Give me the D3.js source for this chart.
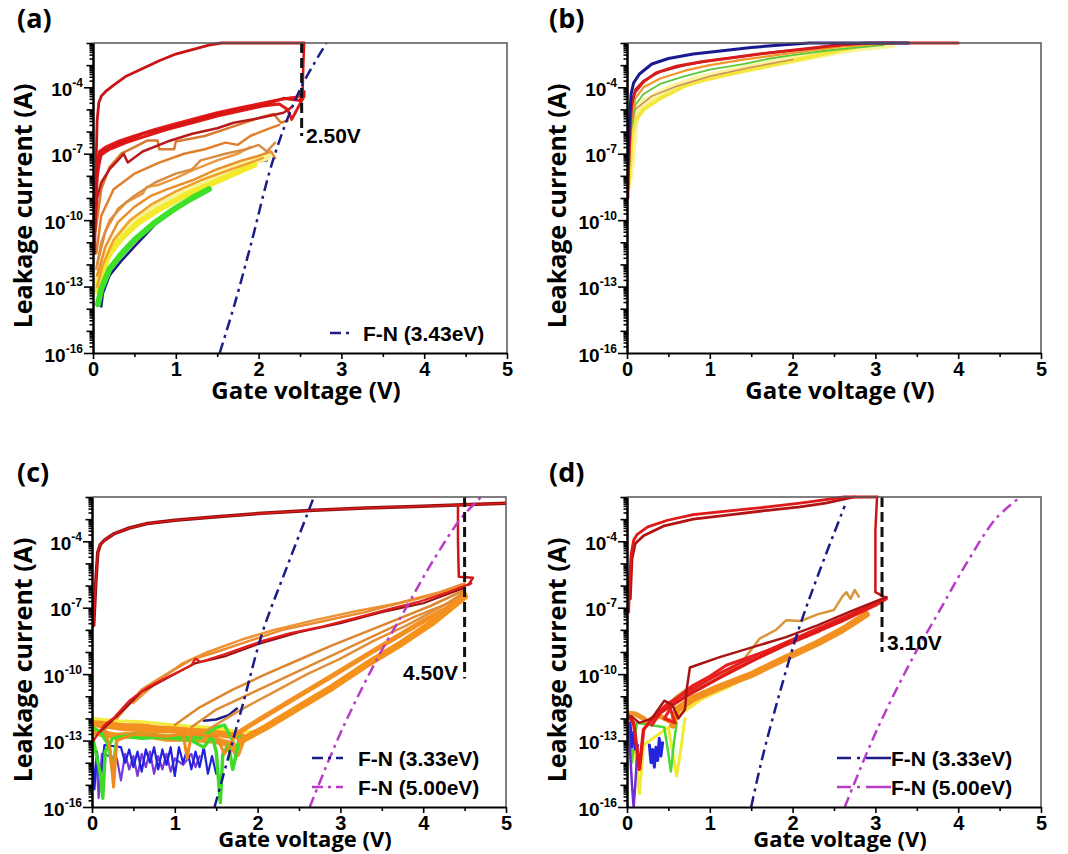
<!DOCTYPE html>
<html>
<head>
<meta charset="utf-8">
<script src="https://cdn.jsdelivr.net/npm/d3@7"></script>
<style>
  body { margin: 0; background: #fff; }
  svg { display: block; }
</style>
</head>
<body>
<svg width="1068" height="854"></svg>
<script>
// every point is [gate voltage (V), log10 of leakage current (A)]
const X_TICKS = [0, 0.5, 1, 1.5, 2, 2.5, 3, 3.5, 4, 4.5, 5]
const Y_LABELS = [-16, -13, -10, -7, -4]

// ---- (a)
const aTop = [[0.02,-11.5],[0.03,-9],[0.04,-7],[0.05,-5.5],[0.07,-4.7],[0.1,-4.4],[0.15,-4.2],[0.25,-3.9],[0.4,-3.5],[0.6,-3.15],[0.8,-2.8],[1.0,-2.5],[1.2,-2.3],[1.4,-2.1],[1.55,-2.0],[2.55,-2.0]]
const aJump = [[2.5,-4.3],[2.53,-4.4],[2.54,-3.0],[2.55,-2.0]]
const aBand1 = [[0.02,-10],[0.03,-8.5],[0.05,-7.3],[0.08,-6.9],[0.15,-6.7],[0.3,-6.45],[0.5,-6.2],[0.75,-5.9],[1.0,-5.65],[1.25,-5.4],[1.5,-5.15],[1.75,-4.95],[2.0,-4.75],[2.2,-4.6],[2.35,-4.5],[2.45,-4.45],[2.55,-4.3]]
const aBand2 = [[0.03,-9.5],[0.06,-7.5],[0.1,-7.05],[0.2,-6.8],[0.4,-6.5],[0.6,-6.25],[0.9,-5.9],[1.2,-5.6],[1.5,-5.3],[1.8,-5.05],[2.05,-4.85],[2.25,-4.75],[2.35,-5.0],[2.4,-5.45],[2.45,-5.1],[2.55,-4.4]]
const aBand3 = [[0.05,-8],[0.1,-6.9],[0.3,-6.55],[0.6,-6.1],[1.0,-5.75],[1.4,-5.3],[1.8,-4.95],[2.1,-4.75],[2.3,-4.5],[2.5,-4.6],[2.55,-4.2]]
const aDarkRed = [[0.02,-10.5],[0.05,-9],[0.1,-8.3],[0.2,-7.7],[0.3,-7.3],[0.37,-7.0],[0.42,-7.4],[0.6,-6.9],[0.9,-6.45],[1.2,-6.1],[1.5,-5.85],[1.7,-5.6],[2.0,-5.4],[2.3,-5.15],[2.4,-4.9]]
const aO1 = [[0.03,-10.5],[0.1,-8.6],[0.2,-7.6],[0.34,-7.0],[0.5,-6.7],[0.66,-6.4],[0.78,-6.4],[0.8,-6.8],[0.98,-6.8],[1.0,-6.45],[1.35,-6.2],[1.67,-5.8],[2.03,-5.35],[2.18,-5.2],[2.27,-5.6],[2.35,-5.5]]
const aO2 = [[0.04,-11.5],[0.1,-9.8],[0.25,-8.6],[0.5,-7.9],[0.8,-7.4],[1.1,-7.0],[1.35,-6.8],[1.6,-6.5],[1.75,-6.6],[1.9,-6.2],[2.1,-5.9],[2.25,-5.7]]
const aO3 = [[0.05,-12],[0.15,-10.5],[0.3,-9.5],[0.5,-8.9],[0.75,-8.3],[1.0,-7.9],[1.2,-7.7],[1.3,-7.3],[1.6,-7.0],[1.85,-6.8],[2.0,-6.6],[2.1,-6.9],[2.2,-6.5]]
const aO4 = [[0.05,-12.5],[0.15,-11.2],[0.3,-10.1],[0.5,-9.4],[0.7,-8.9],[0.9,-8.6],[1.2,-8.2],[1.5,-7.7],[1.8,-7.3],[2.0,-7.1],[2.15,-6.9],[2.2,-7.2]]
const aO5 = [[0.05,-13],[0.12,-12],[0.25,-10.9],[0.45,-10.0],[0.7,-9.3],[1.0,-8.7],[1.3,-8.2],[1.6,-7.8],[1.9,-7.4],[2.05,-7.2]]
const aO6 = [[0.04,-12.2],[0.1,-11.0],[0.2,-10.0],[0.4,-9.2],[0.6,-8.8],[0.65,-8.5],[0.8,-8.4],[1.0,-8.1],[1.2,-7.75],[1.5,-7.3],[1.75,-7.0],[1.9,-6.7]]
const aYellow = [[0.05,-13.2],[0.1,-12.4],[0.2,-11.5],[0.35,-10.8],[0.55,-10.1],[0.8,-9.5],[1.1,-8.9],[1.4,-8.4],[1.7,-7.9],[1.95,-7.5]]
const aLightYellow = [[0.06,-12.8],[0.15,-11.7],[0.3,-10.8],[0.5,-10.0],[0.8,-9.3],[1.1,-8.7],[1.4,-8.2],[1.7,-7.7],[1.95,-7.3],[2.1,-7.1]]
const aGreen = [[0.06,-13.8],[0.1,-13.1],[0.2,-12.2],[0.35,-11.5],[0.5,-10.9],[0.75,-10.1],[1.0,-9.45],[1.2,-9.0],[1.4,-8.6]]
const aNavy = [[0.1,-13.9],[0.12,-13.3],[0.2,-12.5],[0.34,-11.85],[0.5,-11.2],[0.75,-10.2],[1.0,-9.5],[1.15,-9.05],[1.47,-8.3],[1.7,-7.8],[1.87,-7.45],[2.0,-7.2],[2.07,-7.0],[2.1,-7.3],[2.0,-7.35]]
const aFN = [[1.53,-16],[1.71,-13.8],[1.9,-11.2],[2.19,-7.1],[2.5,-4.1],[2.82,-2.0]]

// ---- (b)
const bNavy = [[0.01,-7.5],[0.03,-5.5],[0.05,-4.3],[0.08,-3.8],[0.15,-3.4],[0.3,-2.95],[0.5,-2.7],[0.8,-2.5],[1.1,-2.37],[1.5,-2.2],[1.9,-2.08],[2.2,-2.0],[3.4,-2.0]]
const bRed = [[0.01,-9.0],[0.02,-7.5],[0.04,-5.6],[0.06,-4.6],[0.1,-4.2],[0.2,-3.75],[0.35,-3.35],[0.6,-3.05],[0.9,-2.85],[1.2,-2.7],[1.6,-2.5],[1.95,-2.35],[2.3,-2.2],[2.6,-2.08],[2.9,-2.0],[4.0,-2.0]]
const bDarkRed = [[0.02,-7],[0.05,-5],[0.1,-4.1],[0.2,-3.7],[0.4,-3.3],[0.7,-3.0],[1.0,-2.8],[1.4,-2.6],[1.8,-2.4],[2.2,-2.25],[2.5,-2.1],[2.8,-2.0]]
const bOrange = [[0.02,-8],[0.05,-5.5],[0.1,-4.5],[0.2,-4.0],[0.4,-3.6],[0.7,-3.25],[1.0,-3.0],[1.4,-2.75],[1.8,-2.55],[2.2,-2.35],[2.6,-2.15],[3.0,-2.05],[3.3,-2.0]]
const bGreen = [[0.02,-8],[0.05,-5.8],[0.1,-4.8],[0.2,-4.3],[0.4,-3.85],[0.7,-3.5],[1.0,-3.2],[1.4,-2.95],[1.73,-2.7],[2.0,-2.55],[2.4,-2.35],[2.8,-2.2],[3.1,-2.1]]
const bYellow = [[0.02,-8.5],[0.06,-6.2],[0.1,-5.5],[0.2,-5.0],[0.4,-4.5],[0.72,-3.9],[1.0,-3.6],[1.4,-3.25],[1.93,-2.85],[2.3,-2.55],[2.73,-2.2],[3.0,-2.05]]
const bLightYellow = [[0.03,-8],[0.1,-5.2],[0.2,-4.7],[0.5,-4.1],[0.8,-3.7],[1.2,-3.35],[1.6,-3.05],[2.0,-2.75],[2.4,-2.45],[2.8,-2.2],[3.2,-2.05]]
const bTan = [[0.05,-6],[0.1,-5.0],[0.3,-4.4],[0.6,-3.95],[1.0,-3.5],[1.5,-3.1],[2.0,-2.75]]

// ---- (c)
const cTop = [[0.02,-7.8],[0.04,-6.3],[0.05,-5.6],[0.07,-4.5],[0.1,-4.15],[0.15,-3.95],[0.27,-3.65],[0.45,-3.4],[0.67,-3.2],[1.0,-3.05],[1.47,-2.9],[2.0,-2.75],[2.68,-2.6],[3.3,-2.5],[3.9,-2.43],[4.4,-2.36],[5.0,-2.28]]
const cDrop = [[4.42,-2.36],[4.42,-4.0],[4.43,-5.6],[4.6,-5.65],[4.55,-5.95]]
const cRedLow = [[0.02,-13.0],[0.07,-12.7],[0.15,-12.3],[0.27,-11.95],[0.45,-11.2],[0.67,-10.6],[0.9,-10.15],[1.07,-9.85],[1.2,-9.6],[1.25,-9.3],[1.31,-9.45],[1.6,-9.1],[2.06,-8.5],[2.4,-8.15],[2.78,-7.85],[3.2,-7.45],[3.6,-7.05],[3.98,-6.7],[4.3,-6.3],[4.58,-5.9]]
const cDarkRed = [[0.1,-12.6],[0.3,-11.9],[0.6,-10.8],[1.0,-10.0],[1.25,-9.5],[1.6,-9.2],[2.0,-8.65],[2.5,-8.1],[3.0,-7.7],[3.5,-7.2],[4.0,-6.8],[4.5,-6.1]]
const cOrangeUpper1 = [[0.3,-12.0],[0.6,-10.7],[0.9,-10.0],[1.2,-9.35],[1.5,-9.0],[1.9,-8.5],[2.3,-8.0],[2.8,-7.6],[3.3,-7.2],[3.8,-6.7],[4.2,-6.3],[4.5,-5.9]]
const cOrangeUpper2 = [[0.5,-11.3],[0.8,-10.3],[1.1,-9.5],[1.4,-9.0],[1.8,-8.45],[2.2,-8.0],[2.7,-7.55],[3.2,-7.15],[3.7,-6.8],[4.1,-6.45],[4.5,-6.0]]
const cOF1 = [[1.0,-12.3],[1.3,-11.5],[1.7,-10.7],[2.1,-10.0],[2.5,-9.35],[2.9,-8.7],[3.3,-8.1],[3.7,-7.5],[4.1,-6.9],[4.5,-6.2]]
const cOF2 = [[1.2,-12.4],[1.5,-11.6],[1.9,-10.9],[2.3,-10.2],[2.7,-9.5],[3.1,-8.8],[3.5,-8.1],[3.9,-7.4],[4.3,-6.8],[4.5,-6.3]]
const cOF3 = [[1.4,-12.5],[1.8,-11.6],[2.2,-10.8],[2.6,-10.0],[3.0,-9.3],[3.4,-8.5],[3.8,-7.8],[4.2,-7.0],[4.5,-6.3]]
const cOF4 = [[1.7,-12.8],[2.0,-12.1],[2.4,-11.2],[2.8,-10.3],[3.2,-9.4],[3.6,-8.5],[4.0,-7.6],[4.3,-7.0],[4.5,-6.4]]
const cOF5 = [[1.8,-13.0],[2.1,-12.4],[2.5,-11.5],[2.9,-10.6],[3.3,-9.6],[3.7,-8.7],[4.1,-7.7],[4.5,-6.5]]
const cNavySeg = [[1.35,-12.1],[1.5,-12.05],[1.65,-11.85],[1.75,-11.55]]
const cFlatOrange = [[0.0,-12.2],[0.2,-12.3],[0.4,-12.4],[0.6,-12.4],[0.8,-12.5],[1.0,-12.5],[1.2,-12.6],[1.4,-12.6],[1.6,-12.7],[1.8,-12.8]]
const cFlatOrange2 = [[0.0,-12.6],[0.3,-12.8],[0.6,-12.7],[0.9,-12.9],[1.2,-12.9],[1.5,-13.0],[1.7,-13.2],[1.75,-13.6],[1.8,-13.1]]
const cYellowFlat = [[0.0,-12.0],[0.3,-12.1],[0.6,-12.15],[1.0,-12.3],[1.4,-12.4],[1.8,-12.6],[2.0,-12.6]]
const cGreen = [[0.0,-12.7],[0.05,-13.6],[0.1,-14.5],[0.13,-15.6],[0.16,-13.5],[0.25,-12.9],[0.4,-12.8],[0.6,-12.9],[0.8,-12.85],[1.0,-12.9],[1.2,-13.0],[1.35,-13.3],[1.45,-12.8],[1.5,-13.5],[1.55,-15.8],[1.58,-13.6],[1.65,-13.2],[1.7,-14.3],[1.75,-13.5],[1.78,-12.8]]
const cGreen2 = [[0.0,-12.4],[0.1,-12.6],[0.2,-13.2],[0.25,-14.4],[0.3,-12.9],[0.5,-12.7],[0.9,-12.8],[1.3,-12.9],[1.5,-12.4],[1.6,-12.3],[1.7,-13.0]]
const cBlue = [[0.0,-13.0],[0.03,-15.2],[0.06,-13.5],[0.1,-15.0],[0.15,-13.2],[0.35,-13.3],[0.4,-14.0],[0.45,-13.4],[0.5,-14.2],[0.55,-13.5],[0.6,-14.4],[0.65,-13.4],[0.7,-14.0],[0.75,-13.3],[0.8,-14.3],[0.85,-13.4],[0.9,-14.1],[0.95,-13.3],[1.0,-14.6],[1.05,-13.3],[1.1,-14.0],[1.15,-13.4],[1.2,-14.3],[1.25,-13.5],[1.3,-14.2],[1.35,-13.3],[1.4,-14.5],[1.45,-13.7],[1.5,-14.5]]
const cViolet = [[0.05,-13.5],[0.08,-15.6],[0.12,-13.6],[0.3,-13.8],[0.35,-14.8],[0.4,-13.6],[0.45,-14.3],[0.5,-13.7],[0.55,-14.6],[0.6,-13.6],[0.65,-14.2],[0.7,-13.5],[0.75,-14.5],[0.8,-13.7],[0.85,-14.3],[0.9,-13.6],[0.95,-14.4],[1.0,-13.8],[1.1,-14.1],[1.2,-13.6],[1.25,-14.2],[1.3,-13.7]]
const cOrangeSpikes = [[0.15,-12.4],[0.22,-13.4],[0.26,-15.1],[0.3,-13.0],[0.5,-12.7],[0.9,-12.8],[1.1,-12.7],[1.15,-13.8],[1.2,-12.7],[1.5,-12.8],[1.6,-13.6],[1.7,-13.0]]
const cFN1 = [[1.48,-16],[1.65,-13.7],[1.83,-11.25],[2.06,-8.1],[2.34,-5.3],[2.68,-2.0]]
const cFN2 = [[2.63,-16],[3.02,-12.5],[3.46,-9.2],[3.78,-7.1],[4.1,-5.0],[4.45,-3.0],[4.7,-2.0]]

// ---- (d)
const dTop1 = [[0.02,-7.2],[0.03,-5.8],[0.05,-4.6],[0.08,-3.95],[0.12,-3.7],[0.25,-3.35],[0.49,-3.05],[0.8,-2.8],[1.29,-2.6],[1.7,-2.45],[2.09,-2.28],[2.4,-2.12],[2.62,-2.0],[3.02,-2.0]]
const dTop2 = [[0.04,-6.6],[0.06,-4.8],[0.1,-4.1],[0.2,-3.75],[0.45,-3.3],[0.8,-3.0],[1.29,-2.78],[1.7,-2.6],[2.09,-2.45],[2.4,-2.28],[2.62,-2.1],[2.75,-2.0]]
const dDrop = [[3.02,-2.0],[3.0,-3.5],[3.0,-6.3],[3.1,-6.5]]
const dRedMain = [[0.0,-11.8],[0.08,-12.2],[0.15,-14.3],[0.2,-12.5],[0.32,-11.95],[0.5,-11.5],[0.76,-10.9],[1.1,-10.2],[1.52,-9.38],[1.9,-8.7],[2.33,-8.03],[2.7,-7.4],[3.13,-6.55]]
const dRed3 = [[0.3,-12.0],[0.5,-11.3],[0.8,-10.65],[1.1,-10.0],[1.5,-9.25],[1.9,-8.6],[2.3,-7.95],[2.7,-7.3],[3.1,-6.6]]
const dDarkRed = [[0.05,-11.9],[0.15,-12.2],[0.3,-12.0],[0.45,-11.2],[0.55,-11.4],[0.62,-12.0],[0.7,-11.6],[0.72,-10.7],[0.76,-9.7],[1.12,-9.23],[1.52,-8.78],[1.92,-8.33],[2.3,-7.8],[2.73,-7.12],[3.13,-6.52]]
const dRed2 = [[0.3,-12.3],[0.45,-11.5],[0.5,-11.3],[0.58,-12.2],[0.45,-12.0],[0.6,-11.1],[0.8,-10.5],[1.0,-10.1],[1.2,-9.6],[1.5,-9.2],[1.8,-8.8],[2.2,-8.2],[2.6,-7.6],[3.0,-6.9],[3.13,-6.6]]
const dOrangeZig = [[0.3,-12.3],[0.4,-11.7],[0.6,-11.0],[0.75,-10.6],[1.0,-10.2],[1.2,-9.9],[1.4,-9.4],[1.6,-8.4],[1.8,-8.0],[1.92,-7.57],[2.1,-7.6],[2.3,-7.3],[2.5,-7.1],[2.6,-6.5],[2.65,-6.3],[2.7,-6.6],[2.75,-6.2],[2.8,-6.5]]
const dOrangeBand = [[0.55,-12.3],[0.6,-11.6],[0.8,-11.1],[1.1,-10.6],[1.52,-9.99],[1.9,-9.3],[2.3,-8.6],[2.6,-8.0],[2.89,-7.3]]
const dYellowBand = [[0.6,-11.9],[0.9,-11.1],[1.2,-10.6],[1.6,-9.8],[2.0,-9.1],[2.4,-8.4],[2.8,-7.6]]
const dGreenSeg = [[0.5,-11.6],[0.8,-10.7],[1.1,-10.0],[1.3,-9.7]]
const dOrangeLow = [[0.0,-11.75],[0.1,-11.8],[0.2,-12.0],[0.25,-12.2],[0.3,-12.0],[0.4,-11.9],[0.5,-12.1]]
const dViolet = [[0.0,-12.0],[0.03,-13.0],[0.06,-15.0],[0.08,-16.0],[0.1,-15.0],[0.13,-13.2]]
const dBlue = [[0.04,-12.2],[0.06,-13.3],[0.08,-12.6],[0.1,-13.4]]
const dBlueCluster = [[0.27,-13.2],[0.29,-14.0],[0.31,-13.4],[0.33,-14.2],[0.35,-13.3],[0.37,-13.9],[0.39,-12.9],[0.41,-13.7],[0.43,-13.1]]
const dGreen = [[0.0,-11.9],[0.03,-12.8],[0.06,-14.0],[0.09,-13.0],[0.12,-12.2],[0.45,-12.4],[0.5,-13.6],[0.53,-14.4],[0.57,-13.0],[0.6,-12.2]]
const dYellow = [[0.0,-11.8],[0.1,-13.5],[0.15,-15.4],[0.2,-13.2],[0.5,-12.4],[0.55,-13.5],[0.6,-14.6],[0.65,-13.4],[0.7,-12.0]]
const dFN1 = [[1.5,-16],[1.62,-14.0],[1.84,-10.9],[2.08,-7.9],[2.33,-5.3],[2.63,-2.4]]
const dFN2 = [[2.63,-16],[3.02,-12.5],[3.46,-9.2],[3.78,-7.1],[4.1,-5.0],[4.45,-3.0],[4.75,-2.0]]

const NAVY = '#1c1c86'
const MAGENTA = '#b83cc8'

const panels = [
  { id: 'a', left: 93, top: 43, letter: '(a)',
    series: [[aNavy,NAVY,2.5],[aLightYellow,'#f8f29a',9],[aYellow,'#f2ea2a',6],[aGreen,'#3ee028',6],
      [aO5,'#f0a030',2.5],[aO6,'#e89a40',2.5],[aO4,'#e8902c',2.5],[aO3,'#d88c44',2.5],[aO2,'#e0802c',2.5],[aO1,'#d87a30',2.5],
      [aDarkRed,'#b81a1a',2.5],[aBand1,'#e41c1c',3],[aBand2,'#e01818',3],[aBand3,'#d81414',3],
      [aTop,'#c81414',2.8],[aJump,'#e01010',2.5]],
    fn: [[aFN, NAVY]],
    marker: { v: 2.52, to: -6.2, label: '2.50V', lx: 213, ly: 100, anchor: 'start' },
    legend: { x1: 237, x2: 259, tx: 270, y0: 290, items: [['F-N (3.43eV)', NAVY]] } },
  { id: 'b', left: 627, top: 43, letter: '(b)',
    series: [[bLightYellow,'#faf3a0',8],[bYellow,'#f4e83c',4],[bTan,'#c89060',1.5],[bGreen,'#5cc83a',1.8],
      [bOrange,'#f09828',2.2],[bDarkRed,'#a82020',2.2],[bRed,'#d81c1c',3],[bNavy,'#1a1a90',3]],
    fn: [], marker: null, legend: null },
  { id: 'c', left: 92, top: 497, letter: '(c)',
    series: [[cFlatOrange2,'#f39422',7],[cFlatOrange,'#f39020',8],[cYellowFlat,'#f4ea3c',3],[cViolet,'#7a3ad8',2.2],
      [cBlue,'#2222dd',2.2],[cGreen2,'#44dd2c',3.5],[cGreen,'#3edc28',3.5],[cOrangeSpikes,'#f08a20',3],[cNavySeg,NAVY,2.5],
      [cOF5,'#f5921c',7],[cOF4,'#f39020',5],[cOF3,'#e0903a',2.5],[cOF2,'#e08a34',2.5],[cOF1,'#dd8630',2.5],
      [cOrangeUpper2,'#ee9434',2.5],[cOrangeUpper1,'#ea8c30',2.5],[cDarkRed,'#9c1010',2.2],[cRedLow,'#e01c1c',2.2],
      [cTop,'#8a1010',3.5],[cTop,'#e01818',1.6],[cDrop,'#d01414',2.5]],
    fn: [[cFN1, NAVY],[cFN2, MAGENTA]],
    marker: { v: 4.5, to: -10.2, label: '4.50V', lx: 366, ly: 183, anchor: 'end' },
    legend: { x1: 220, x2: 251, tx: 266, y0: 261, items: [['F-N (3.33eV)', NAVY],['F-N (5.00eV)', MAGENTA]] } },
  { id: 'd', left: 627, top: 497, letter: '(d)',
    series: [[dYellow,'#f2ea30',3],[dGreen,'#4cd834',2.5],[dViolet,'#7030d0',2.5],[dBlue,'#2424dd',2.5],
      [dBlueCluster,'#2424dd',3],[dOrangeLow,'#f09428',5],[dYellowBand,'#f3e23c',4],[dOrangeBand,'#f29020',7],
      [dGreenSeg,'#70d040',2],[dOrangeZig,'#d8963a',2.5],[dRed3,'#e42020',3],[dRed2,'#e82020',3],[dRedMain,'#e01818',3.5],
      [dDarkRed,'#a81414',2.5],[dTop2,'#b01414',2.8],[dTop1,'#e01818',2.8],[dDrop,'#d01414',2.5]],
    fn: [[dFN1, NAVY],[dFN2, MAGENTA]],
    marker: { v: 3.08, to: -9.0, label: '3.10V', lx: 260, ly: 153, anchor: 'start' },
    legend: { x1: 210, x2: 264, tx: 264, y0: 261, items: [['F-N (3.33eV)', NAVY],['F-N (5.00eV)', MAGENTA]], long: true } }
]

const svg = d3.select('svg')
const W = 414, H = 310
const TICK_FONT = '"Liberation Sans", Arial, sans-serif'
const TITLE_FONT = '"Open Sans", "Noto Sans", sans-serif'

const x = d3.scaleLinear().domain([0, 5]).range([0, W])
const y = d3.scaleLog().domain([1e-16, 1e-2]).range([H, 0])
const line = d3.line().x(d => x(d[0])).y(d => y(Math.pow(10, d[1])))
const smoothLine = d3.line().x(d => x(d[0])).y(d => y(Math.pow(10, d[1]))).curve(d3.curveCatmullRom)

// minor ticks on the log axis
const yTicks = []
for (let e = -16; e < -2; e++) for (let m = 1; m < 10; m++) yTicks.push(m * Math.pow(10, e))
yTicks.push(1e-2)

const drawPanel = p => {
  const g = svg.append('g').attr('transform', `translate(${p.left},${p.top})`)
  const rightCol = p.left > 500
  const bottomRow = p.top > 400

  g.append('clipPath').attr('id', 'clip-' + p.id)
    .append('rect').attr('x', 0).attr('y', -2).attr('width', W).attr('height', H + 2)
  const plot = g.append('g').attr('clip-path', `url(#clip-${p.id})`)

  p.series.forEach(([pts, color, w]) => {
    plot.append('path').attr('d', line(pts))
      .attr('fill', 'none').attr('stroke', color).attr('stroke-width', w)
      .attr('stroke-linejoin', 'round').attr('stroke-linecap', 'round')
  })

  p.fn.forEach(([pts, color]) => {
    plot.append('path').attr('d', smoothLine(pts))
      .attr('fill', 'none').attr('stroke', color).attr('stroke-width', 2.5)
      .attr('stroke-dasharray', '11,5,3,5')
  })

  if (p.marker) {
    const m = p.marker
    plot.append('line')
      .attr('x1', x(m.v)).attr('x2', x(m.v))
      .attr('y1', y(1e-2)).attr('y2', y(Math.pow(10, m.to)))
      .attr('stroke', '#111').attr('stroke-width', 3).attr('stroke-dasharray', '10,5')
    g.append('text').attr('x', m.lx).attr('y', m.ly)
      .attr('text-anchor', m.anchor)
      .style('font-family', TICK_FONT).style('font-weight', 'bold').style('font-size', '21px')
      .text(m.label)
  }

  if (p.legend) {
    const L = p.legend
    L.items.forEach(([label, color], i) => {
      const yy = L.y0 + i * 29
      g.append('line').attr('x1', L.x1).attr('x2', L.x2).attr('y1', yy).attr('y2', yy)
        .attr('stroke', color).attr('stroke-width', 2.5)
        .attr('stroke-dasharray', L.long ? '14,6,3,6,25' : '11,5,3,5')
      g.append('text').attr('x', L.tx).attr('y', yy + 8)
        .style('font-family', TICK_FONT).style('font-weight', 'bold').style('font-size', '21px')
        .text(label)
    })
  }

  // top and right frame
  g.append('path').attr('d', `M0,0H${W}V${H}`)
    .attr('fill', 'none').attr('stroke', '#555').attr('stroke-width', 1.5)

  // y axis: dense log ticks
  const yAxisG = g.append('g')
    .call(d3.axisLeft(y).tickValues(yTicks).tickSize(0).tickSizeOuter(0).tickFormat(''))
  yAxisG.select('.domain').attr('stroke', '#000').attr('stroke-width', 2.5)
  yAxisG.selectAll('.tick line')
    .attr('x2', d => {
      const e = Math.round(Math.log10(d))
      const isDecade = Math.abs(d - Math.pow(10, e)) < Math.pow(10, e) * 1e-6
      if (!isDecade) return -3.5
      return Y_LABELS.includes(e) ? -9 : -6.5
    })
    .attr('stroke', '#000').attr('stroke-width', 1.6)

  const yLabG = g.append('g')
  Y_LABELS.forEach(e => {
    const t = yLabG.append('text')
      .attr('x', -10).attr('y', y(Math.pow(10, e)) + 8.5)
      .attr('text-anchor', 'end')
      .style('font-family', TICK_FONT).style('font-weight', 'bold').style('font-size', '19px')
    t.append('tspan').text('10')
    t.append('tspan').attr('dy', -9).style('font-size', '12px').text(String(e))
  })

  // x axis
  const xAxisG = g.append('g').attr('transform', `translate(0,${H})`)
    .call(d3.axisBottom(x).tickValues(X_TICKS).tickSize(6).tickPadding(3).tickSizeOuter(0)
      .tickFormat(d => Number.isInteger(d) ? d : ''))
  xAxisG.select('.domain').attr('stroke', '#000').attr('stroke-width', 2.2)
  xAxisG.selectAll('.tick line').attr('y2', d => Number.isInteger(d) ? 6 : 4)
    .attr('stroke', '#000').attr('stroke-width', 1.6)
  xAxisG.selectAll('.tick text')
    .attr('fill', '#000')
    .style('font-family', TICK_FONT).style('font-weight', 'bold').style('font-size', '20px')

  // titles
  g.append('text')
    .attr('x', W / 2 + 6).attr('y', H + (bottomRow ? 40 : 46))
    .attr('text-anchor', 'middle')
    .style('font-family', TITLE_FONT).style('font-weight', 'bold').style('font-size', bottomRow ? '22px' : '24px')
    .text('Gate voltage (V)')

  g.append('text')
    .attr('transform', `translate(${(rightCol ? 566 : 32) - p.left},${H / 2 + 8}) rotate(-90)`)
    .attr('text-anchor', 'middle')
    .style('font-family', TITLE_FONT).style('font-weight', 'bold').style('font-size', '25px')
    .text('Leakage current (A)')

  svg.append('text')
    .attr('x', rightCol ? 549 : 17).attr('y', p.top - 15)
    .style('font-family', TITLE_FONT).style('font-weight', 'bold').style('font-size', '27px')
    .text(p.letter)
}

panels.forEach(drawPanel)
</script>
</body>
</html>
